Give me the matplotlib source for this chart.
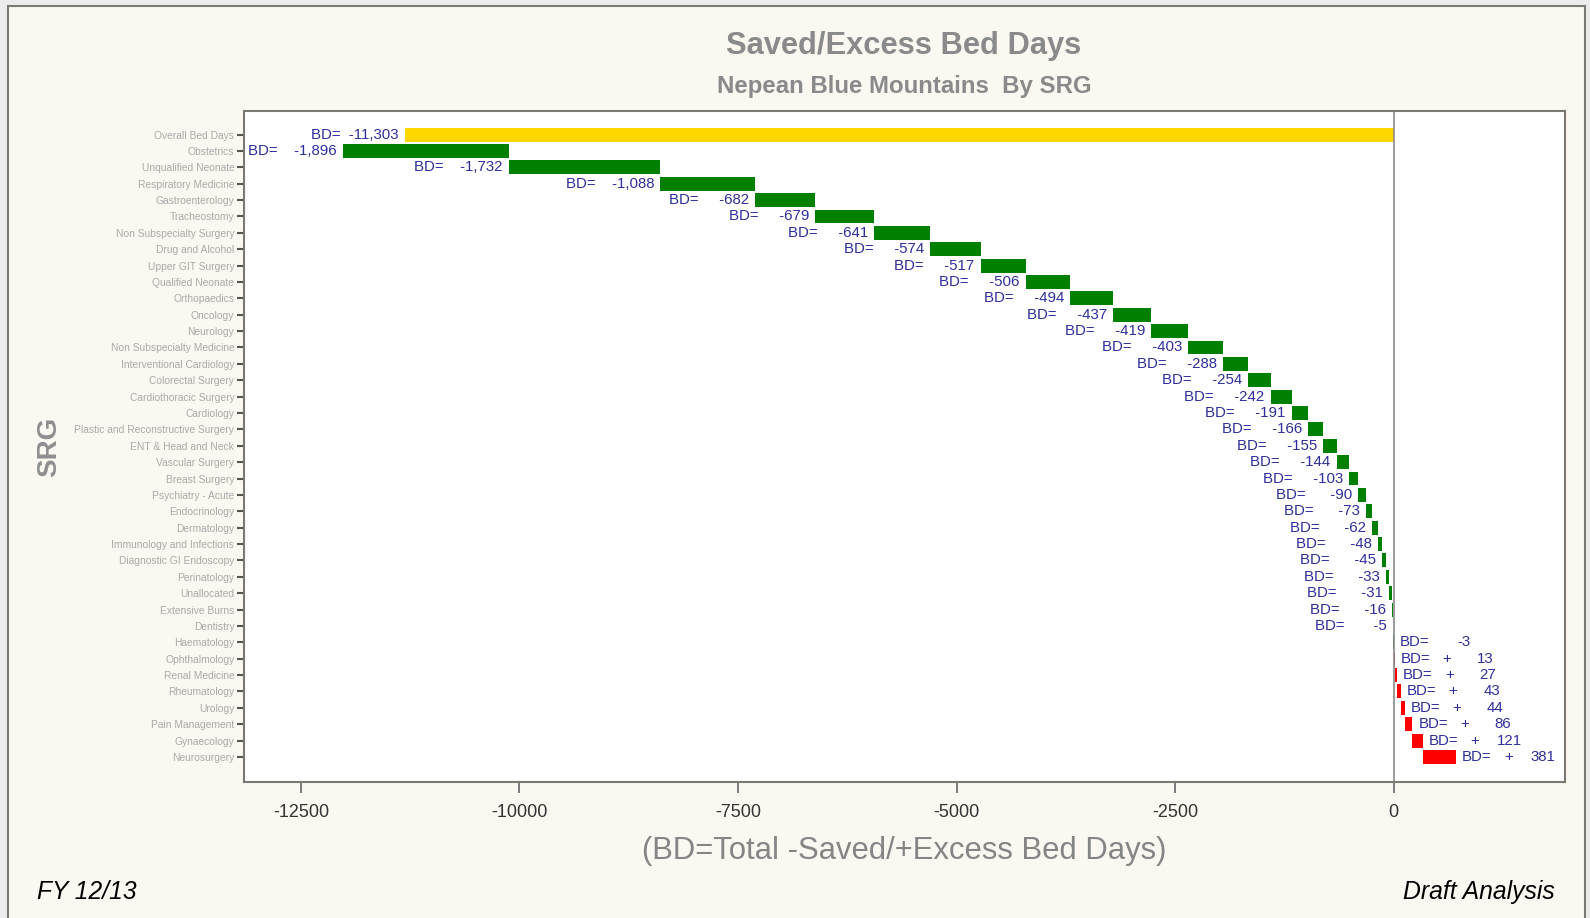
import matplotlib
matplotlib.use("Agg")
import matplotlib.pyplot as plt
from matplotlib.patches import Rectangle

plt.rcParams['font.family'] = ['Liberation Sans', 'DejaVu Sans']

total_label = "Overall Bed Days"
total_value = -11303

srgs = ["Obstetrics", "Unqualified Neonate", "Respiratory Medicine", "Gastroenterology",
        "Tracheostomy", "Non Subspecialty Surgery", "Drug and Alcohol", "Upper GIT Surgery",
        "Qualified Neonate", "Orthopaedics", "Oncology", "Neurology",
        "Non Subspecialty Medicine", "Interventional Cardiology", "Colorectal Surgery",
        "Cardiothoracic Surgery", "Cardiology", "Plastic and Reconstructive Surgery",
        "ENT & Head and Neck", "Vascular Surgery", "Breast Surgery", "Psychiatry - Acute",
        "Endocrinology", "Dermatology", "Immunology and Infections",
        "Diagnostic GI Endoscopy", "Perinatology", "Unallocated", "Extensive Burns",
        "Dentistry", "Haematology", "Ophthalmology", "Renal Medicine", "Rheumatology",
        "Urology", "Pain Management", "Gynaecology", "Neurosurgery"]
bed_days = [-1896, -1732, -1088, -682, -679, -641, -574, -517, -506, -494, -437, -419,
            -403, -288, -254, -242, -191, -166, -155, -144, -103, -90, -73, -62, -48,
            -45, -33, -31, -16, -5, -3, 13, 27, 43, 44, 86, 121, 381]

LABEL_BLUE = "#2f2f9c"
GREY = "#8a8a8a"
FS = 10.8

fig = plt.figure(figsize=(15.9, 9.18), dpi=100, facecolor="#ececec")
fig.patches.append(Rectangle((8 / 1590, -0.01), 1577 / 1590, 1.01 - 6 / 918,
                             transform=fig.transFigure, facecolor="#faf8f0",
                             edgecolor="#7a7a72", linewidth=1.5, zorder=-10))

ax = fig.add_axes([244 / 1590, 1 - 782 / 918, (1565 - 244) / 1590, (782 - 111) / 918])
ax.set_facecolor("white")

labels = [total_label] + srgs
h = 0.85

# overall bar
ax.barh(0, total_value, left=0, height=h, color="#ffd700")
ax.annotate("BD=  " + f"{total_value:,}", xy=(total_value, 0), xytext=(-7, 0),
            textcoords="offset pixels", ha="right", va="center", fontsize=FS,
            color=LABEL_BLUE)

# waterfall bars
start = -sum(-v for v in bed_days if v < 0)
for i, v in enumerate(bed_days, start=1):
    left = start
    width = abs(v)
    start += width
    ax.barh(i, width, left=left, height=h, color="#008000" if v < 0 else "#ff0000")
    s = f"{v:,}"
    if v < 0 and abs(v) >= 4:
        pad = " " * (3 + round((7 - len(s)) * 0.75))
        ax.annotate("BD=" + pad + s, xy=(left, i), xytext=(-6, 0),
                    textcoords="offset pixels", ha="right", va="center",
                    fontsize=FS, color=LABEL_BLUE)
    else:
        right = left + width
        ax.annotate("BD=", xy=(right, i), xytext=(6, 0), textcoords="offset pixels",
                    ha="left", va="center", fontsize=FS, color=LABEL_BLUE)
        if v > 0:
            ax.annotate("+", xy=(right, i), xytext=(52, 0), textcoords="offset pixels",
                        ha="center", va="center", fontsize=FS, color=LABEL_BLUE)
            ax.annotate(s, xy=(right, i), xytext=(99, 0), textcoords="offset pixels",
                        ha="right", va="center", fontsize=FS, color=LABEL_BLUE)
        else:
            ax.annotate(s, xy=(right, i), xytext=(77, 0), textcoords="offset pixels",
                        ha="right", va="center", fontsize=FS, color=LABEL_BLUE)

ax.axvline(0, color="#8a8a8a", linewidth=1.2, zorder=1)

ax.set_xlim(-13150, 1960)
ax.set_ylim(len(labels) - 1 + 1.53, -1.44)
ax.set_yticks(range(len(labels)))
ax.set_yticklabels(labels, fontsize=7.4, color="#aaaaaa")
ax.set_xticks([-12500, -10000, -7500, -5000, -2500, 0])
ax.set_xticklabels(["-12500", "-10000", "-7500", "-5000", "-2500", "0"],
                   fontsize=13, color="#333333")
ax.tick_params(axis="y", length=5, width=1.5, color="#555555", pad=2)
ax.tick_params(axis="x", length=8, width=1.2, color="#666666", pad=8)
for sp in ax.spines.values():
    sp.set_color("#7a7a72")
    sp.set_linewidth(1.5)

ax.set_xlabel("(BD=Total -Saved/+Excess Bed Days)", fontsize=22.3, color="#858585",
              labelpad=11)
ax.set_ylabel("SRG", fontsize=20, color="#8f8f8f", fontweight="bold", labelpad=0)
ax.yaxis.set_label_coords(-182 / 1321, 0.5)

fig.text(904 / 1590, 1 - 46 / 918, "Saved/Excess Bed Days", ha="center", va="center",
         fontsize=22.2, fontweight="bold", color=GREY)
fig.text(904 / 1590, 1 - 87 / 918, "Nepean Blue Mountains  By SRG", ha="center",
         va="center", fontsize=17.3, fontweight="bold", color=GREY)
fig.text(37 / 1590, 1 - 892 / 918, "FY 12/13", ha="left", va="center", fontsize=17.7,
         style="italic", color="black")
fig.text(1555 / 1590, 1 - 892 / 918, "Draft Analysis", ha="right", va="center",
         fontsize=17.8, style="italic", color="black")

fig.savefig("out.png", dpi=100, facecolor=fig.get_facecolor())
